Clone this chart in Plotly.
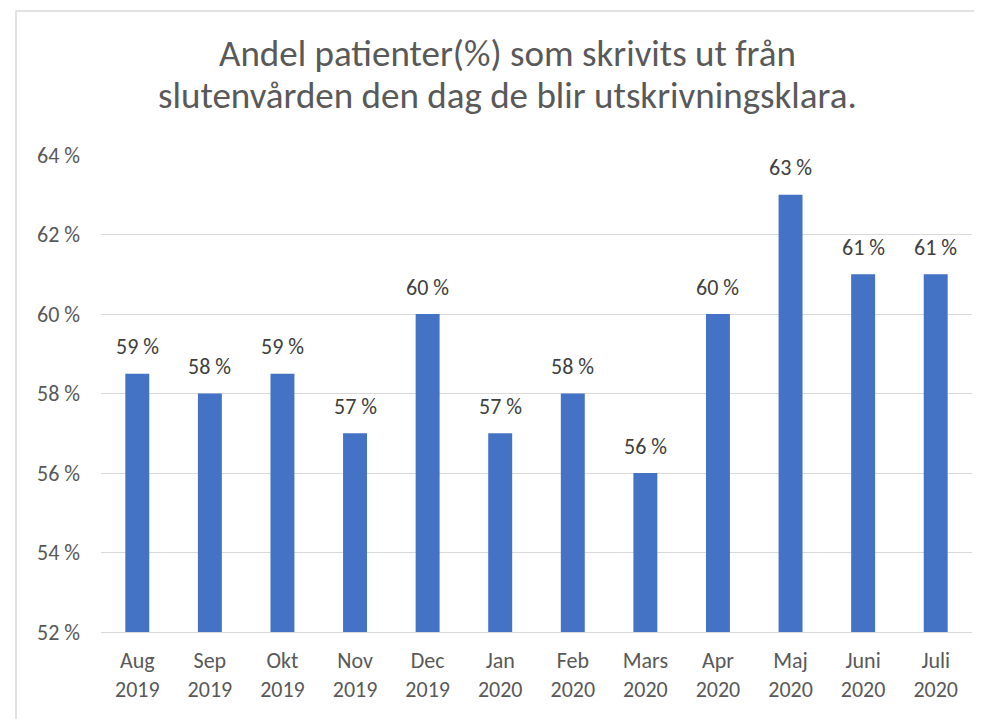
import plotly.graph_objects as go

months = ["Aug", "Sep", "Okt", "Nov", "Dec", "Jan", "Feb", "Mars", "Apr", "Maj", "Juni", "Juli"]
years = ["2019", "2019", "2019", "2019", "2019", "2020", "2020", "2020", "2020", "2020", "2020", "2020"]
values = [58.5, 58.0, 58.5, 57.0, 60.0, 57.0, 58.0, 56.0, 60.0, 63.0, 61.0, 61.0]
value_labels = ["59 %", "58 %", "59 %", "57 %", "60 %", "57 %", "58 %", "56 %", "60 %", "63 %", "61 %", "61 %"]
y_ticks = [52, 54, 56, 58, 60, 62, 64]
y_tick_labels = ["52 %", "54 %", "56 %", "58 %", "60 %", "62 %", "64 %"]
title_lines = ["Andel patienter(%) som skrivits ut från",
               "slutenvården den dag de blir utskrivningsklara."]

categories = [f"{m}<br>{y}" for m, y in zip(months, years)]

FONT = "Carlito, Lato, sans-serif"

fig = go.Figure(go.Bar(
    x=categories,
    y=values,
    base=0,
    marker=dict(color="#4472C4", line=dict(width=0)),
    cliponaxis=False,
    hoverinfo="x+y",
))

# data labels above the bars
for c, v, t in zip(categories, values, value_labels):
    fig.add_annotation(
        x=c, y=v, xref="x", yref="y", text=t, showarrow=False,
        yanchor="middle", xanchor="center", yshift=27,
        font=dict(family=FONT, size=22, color="#404040"),
    )

# page body adds an 8px offset; compensate
OFF = 8
W, H = 982 - OFF, 719 - OFF
L, R, T, B = 101 - OFF, 10, 155 - OFF, 87
pw, ph = W - L - R, H - T - B

# chart title (two lines, Excel-like line spacing)
for i, (line, yc) in enumerate(zip(title_lines, [53, 96])):
    fig.add_annotation(
        x=(508 - OFF) / W, y=1 - (yc - OFF) / H, xref="paper", yref="paper",
        text=line, showarrow=False, xanchor="center", yanchor="middle",
        font=dict(family=FONT, size=37, color="#595959"),
    )
# convert title annotations to container-like coords via paper mapping
for a in fig.layout.annotations[-2:]:
    px = a.x * W
    py = (1 - a.y) * H
    a.x = (px - L) / pw
    a.y = 1 - (py - T) / ph

fig.update_layout(
    width=W, height=H,
    margin=dict(l=L, r=R, t=T, b=B, pad=0),
    paper_bgcolor="white",
    plot_bgcolor="white",
    bargap=0.67,
    showlegend=False,
    font=dict(family=FONT, color="#595959"),
    xaxis=dict(
        showgrid=False,
        showline=True, linecolor="#D9D9D9", linewidth=1,
        ticks="", ticklabelstandoff=9,
        tickfont=dict(family=FONT, size=22, color="#595959"),
        fixedrange=True,
    ),
    yaxis=dict(
        range=[52, 64],
        tickvals=y_ticks, ticktext=y_tick_labels,
        showgrid=True, gridcolor="#D9D9D9", gridwidth=1,
        zeroline=False, showline=False,
        ticks="", ticklabelstandoff=20,
        tickfont=dict(family=FONT, size=22, color="#595959"),
        fixedrange=True,
    ),
    shapes=[dict(
        type="rect", xref="paper", yref="paper",
        x0=(16 - OFF - L) / pw, x1=(W + 10 - L) / pw,
        y0=(-B - 10) / ph, y1=1 + (T - (11 - OFF)) / ph,
        line=dict(color="#D9D9D9", width=1.5),
        fillcolor="rgba(0,0,0,0)", layer="below",
    )],
)

fig.write_html("out.html")
